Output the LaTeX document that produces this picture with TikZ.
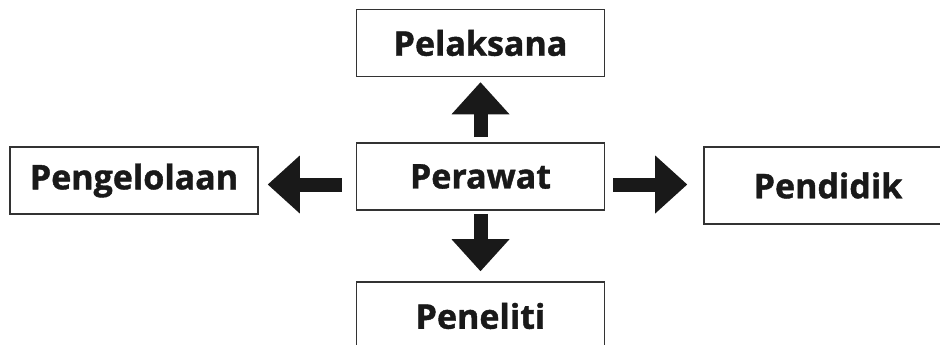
\documentclass[tikz,border=0pt]{standalone}
\usepackage{fontspec}
\setmainfont{Open Sans}[BoldFeatures={FakeBold=1.2}]
\usepackage{tikz}
\usetikzlibrary{arrows.meta}

\tikzset{
	box/.style={draw=black!80, line width=1.6pt, minimum width=248pt, minimum height=67pt,
		inner sep=0pt, text=black!90, font=\fontsize{34}{38}\selectfont\bfseries},
	blk/.style={line width=14pt, draw=black!90,
		-{Triangle[length=32pt,width=58pt,line width=0pt,fill=black!90]}}
}

\begin{document}
\begin{tikzpicture}[x=1pt,y=-1pt]
		\clip (0,0) rectangle (940,345);
		\useasboundingbox (0,0) rectangle (940,345);
		%
		\node[box] (Pel) at (480.5,43) {Pelaksana};
		\node[box] (Per) at (480.5,176.5) {Perawat};
		\node[box] (Pgl) at (134,180.5) {Pengelolaan};
		\node[box, minimum height=77pt] (Pdd) at (828,185.5) {Pendidik};
		\node[box, minimum height=68pt] (Pen) at (480.5,316) {Peneliti};
		%
		\draw[blk, shorten <=5pt, shorten >=5pt] (Per.north) -- (Pel.south);
		\draw[blk, shorten <=3pt, shorten >=10pt] (Per.south) -- (Pen.north);
		\draw[blk, shorten <=14pt, shorten >=9pt] ([yshift=-8pt]Per.west) -- ([yshift=-8pt]Per.west -| Pgl.east);
		\draw[blk, shorten <=8pt, shorten >=16pt] ([yshift=-8pt]Per.east) -- ([yshift=-8pt]Per.east -| Pdd.west);
	\end{tikzpicture}
\end{document}
